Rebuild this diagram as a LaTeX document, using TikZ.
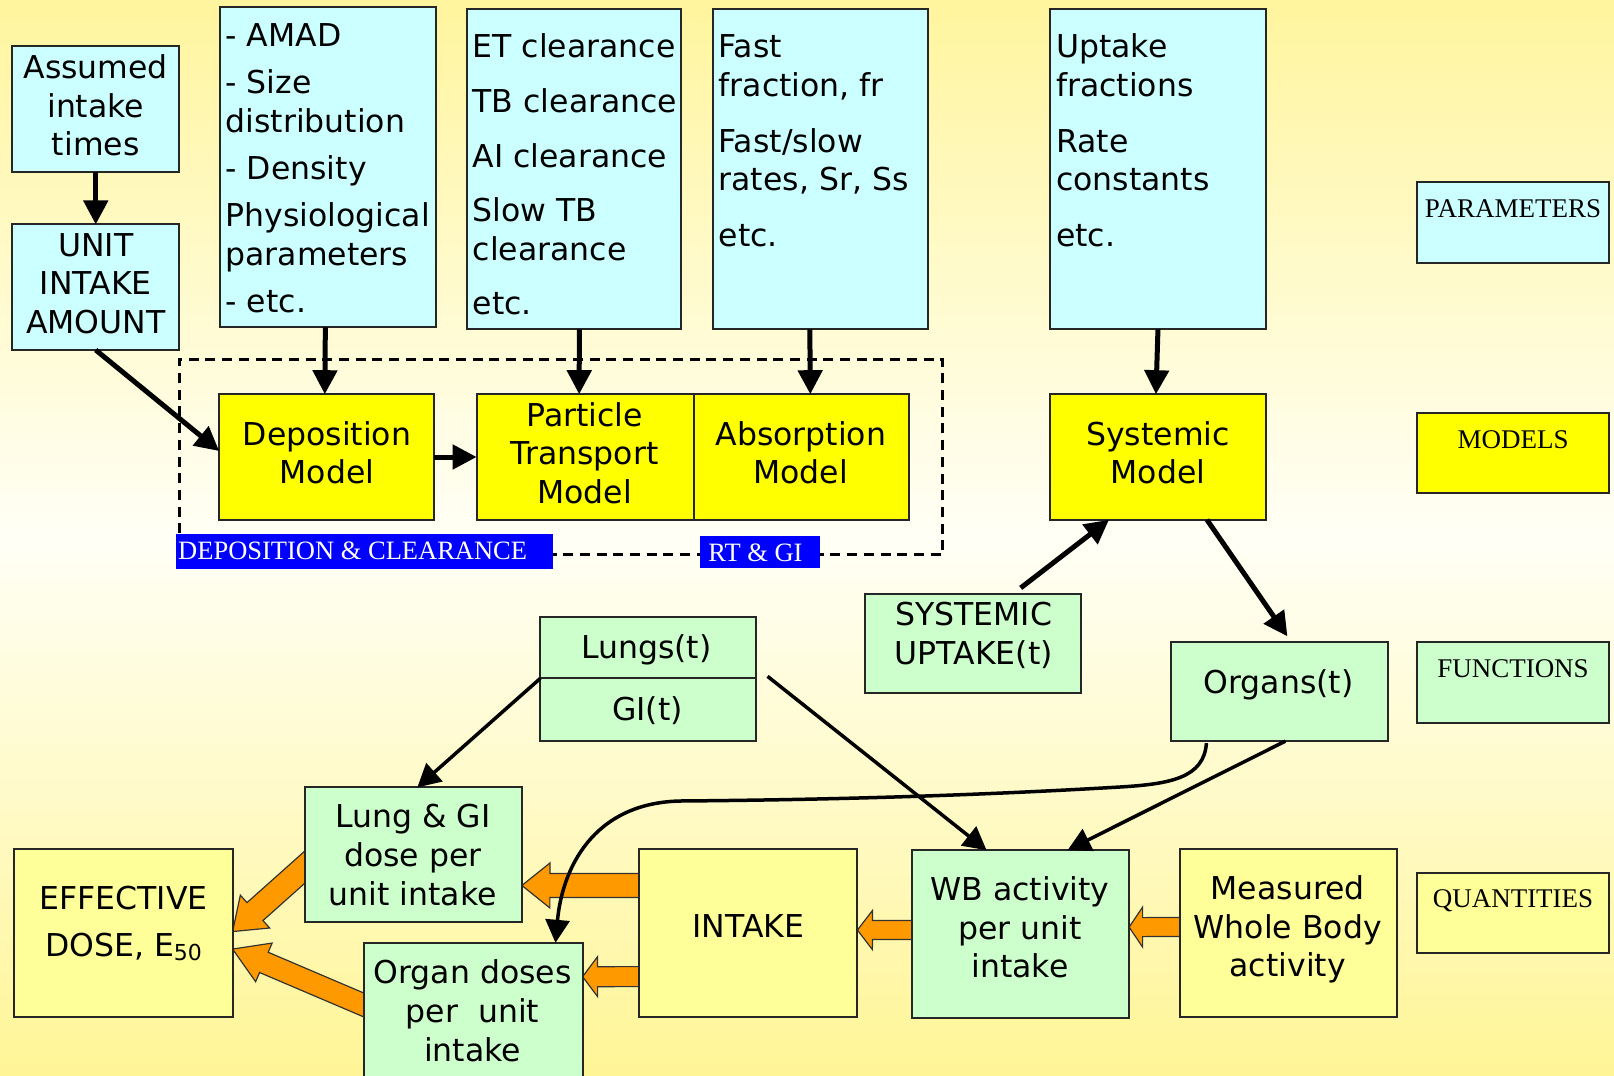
\documentclass[tikz,border=0pt]{standalone}
\usepackage{fontspec}
\setmainfont{DejaVu Sans}
\newfontfamily\seriff{Liberation Serif}
\usetikzlibrary{arrows.meta,calc,backgrounds}
\definecolor{cpar}{HTML}{CCFFFF}
\definecolor{cmod}{HTML}{FFFF00}
\definecolor{cfun}{HTML}{CCFFCC}
\definecolor{cqua}{HTML}{FFFF99}
\definecolor{corange}{HTML}{FF9900}
\definecolor{cblue}{HTML}{0000FF}
\definecolor{bgtop}{HTML}{FFF59E}
\definecolor{bgmid}{HTML}{FFFFF6}
\definecolor{bgbot}{HTML}{FFF596}
\newcommand\mainf{\fontsize{31.5}{38.6}\selectfont}
\newcommand\legf{\seriff\fontsize{27}{30}\selectfont}
\newcommand\mkbox[6]{\node[#6,minimum width={#4-#2},minimum height={#5-#3}] (#1) at ({(#2+#4)/2},{(#3+#5)/2}) {};}
\newcommand\blockarrow[5]{%
 \path #1 coordinate (oa) #2 coordinate (ob);
 \path ($(ob)!#5!(oa)$) coordinate (oc);
 \draw[orr] ($(oa)!#3!90:(ob)$) -- ($(oc)!#3!90:(ob)$) -- ($(oc)!#4!90:(ob)$) -- (ob) -- ($(oc)!#4!-90:(ob)$) -- ($(oc)!#3!-90:(ob)$) -- ($(oa)!#3!-90:(ob)$) -- cycle;}
\begin{document}
\begin{tikzpicture}[x=1pt,y=-1pt,
 box/.style={draw=black!85,line width=2pt,inner sep=0pt,outer sep=0pt},
 cy/.style={box,fill=cpar}, ye/.style={box,fill=cmod}, gr/.style={box,fill=cfun}, ly/.style={box,fill=cqua},
 bl/.style={fill=cblue,inner sep=0pt,outer sep=0pt},
 frame/.style={draw=black,line width=3pt,dash pattern=on 10pt off 6.7pt,inner sep=0pt},
 txt/.style={align=center,inner sep=0pt,font=\mainf},
 ltxt/.style={align=left,inner sep=0pt,font=\mainf,anchor=north west},
 leg/.style={inner sep=0pt,font=\legf,anchor=base},
 wtxt/.style={inner sep=0pt,font=\seriff\fontsize{26.5}{30}\selectfont,text=white},
 arr/.style={line width=5pt,-{Triangle[length=24pt,width=24pt]}},
 arrthin/.style={line width=3.5pt,-{Triangle[length=23pt,width=24pt]}},
 orr/.style={fill=corange,draw=black!80,line width=1.2pt,line join=miter}
]
\useasboundingbox (0,0) rectangle (1614,1076);
\begin{scope}[on background layer]
\shade[top color=bgtop, bottom color=bgbot, middle color=bgmid] (0,0) rectangle (1614,1076);
\end{scope}

% frame
\mkbox{frame}{179.1}{359.2}{942.8}{554.8}{frame}

% parameter boxes
\mkbox{assumed}{12.4}{46.3}{179.1}{171.9}{cy}
\mkbox{unit}{12.4}{224.4}{179.1}{350.0}{cy}
\mkbox{amad}{220.3}{7.2}{436.4}{327.3}{cy}
\mkbox{et}{467.3}{9.3}{681.4}{329.4}{cy}
\mkbox{fast}{713.3}{9.3}{928.4}{329.4}{cy}
\mkbox{uptake}{1049.9}{9.3}{1266.0}{329.4}{cy}
% models
\mkbox{dep}{219.2}{394.2}{434.4}{519.8}{ye}
\mkbox{part}{476.6}{394.2}{693.7}{519.8}{ye}
\mkbox{abs}{693.7}{394.2}{908.9}{519.8}{ye}
\mkbox{sys}{1049.9}{394.2}{1266.0}{519.8}{ye}
% functions
\mkbox{sysup}{864.6}{593.9}{1080.8}{692.7}{gr}
\mkbox{organs}{1171.3}{642.3}{1387.5}{741.1}{gr}
\mkbox{lungs}{540.4}{616.6}{755.5}{678.3}{gr}
\mkbox{gi}{540.4}{678.3}{755.5}{741.1}{gr}
\mkbox{lunggi}{304.7}{787.4}{521.9}{922.3}{gr}
\mkbox{organd}{364.4}{942.8}{582.6}{1085}{gr}
\mkbox{wb}{912.0}{850.2}{1129.1}{1018.0}{gr}
% quantities
\mkbox{eff}{14.4}{849.2}{232.6}{1016.9}{ly}
\mkbox{intake}{639.2}{849.2}{857.4}{1016.9}{ly}
\mkbox{meas}{1179.6}{849.2}{1396.8}{1016.9}{ly}
% legend
\mkbox{lpar}{1417.3}{182.2}{1608.8}{262.5}{cy}
\mkbox{lmod}{1417.3}{412.7}{1608.8}{493.0}{ye}
\mkbox{lfun}{1417.3}{642.3}{1608.8}{722.6}{gr}
\mkbox{lqua}{1417.3}{872.8}{1608.8}{953.1}{ly}
% blue labels
\mkbox{deplab}{176.0}{534.2}{552.7}{569.2}{bl}
\mkbox{rtlab}{699.9}{536.3}{820.4}{568.2}{bl}

% texts
\node[ltxt] (amadT) at (225.4,21.3) {\rule{0pt}{25pt}- AMAD\\[8.5pt]- Size\\distribution\\[8.5pt]- Density\\[8.5pt]Physiological\\parameters\\[8.5pt]- etc.};
\node[ltxt] (etT) at (472.5,32.6) {\rule{0pt}{25pt}ET clearance\\[16pt]TB clearance\\[16pt]AI clearance\\[16pt]Slow TB\\clearance\\[16pt]etc.};
\node[ltxt] (fastT) at (718.5,32.6) {\rule{0pt}{25pt}Fast\\fraction, fr\\[17pt]Fast/slow\\rates, Sr, Ss\\[17pt]etc.};
\node[ltxt] (uptakeT) at (1056,32.6) {\rule{0pt}{25pt}Uptake\\fractions\\[17pt]Rate\\constants\\[17pt]etc.};
\node[txt] (assumedT) at (95.7,105.5) {Assumed\\intake\\times};
\node[txt] (unitT) at (95.7,283.6) {UNIT\\INTAKE\\AMOUNT};
\node[txt] (depT) at (327,452.9) {Deposition\\Model};
\node[txt] (partT) at (584.6,452.9) {Particle\\Transport\\Model};
\node[txt] (absT) at (800.8,452.9) {Absorption\\Model};
\node[txt] (sysT) at (1158,452.9) {Systemic\\Model};
\node[txt] (sysupT) at (973.7,635.5) {SYSTEMIC\\UPTAKE(t)};
\node[txt] (lungsT) at (646.4,649.6) {Lungs(t)};
\node[txt] (giT) at (647.4,710.7) {GI(t)};
\node[txt] (organsT) at (1278.4,684.6) {Organs(t)};
\node[txt] (lunggiT) at (412.7,855) {Lung \& GI\\dose per\\unit intake};
\node[txt] (effT) at (123.5,923.7) {EFFECTIVE\\[8.7pt]DOSE, E\raisebox{-4pt}{\fontsize{22}{22}\selectfont 50}};
\node[txt] (organdT) at (472.5,1010.8) {Organ doses\\per\ \ unit\\intake};
\node[txt] (intakeT) at (748.3,926.4) {INTAKE};
\node[txt] (wbT) at (1020,927.4) {WB activity\\per unit\\intake};
\node[txt] (measT) at (1287.7,929.6) {Measured\\Whole Body\\activity};
\node[leg] (lparT) at (1513,217.6) {PARAMETERS};
\node[leg] (lmodT) at (1513,448) {MODELS};
\node[leg] (lfunT) at (1513,677.6) {FUNCTIONS};
\node[leg] (lquaT) at (1513,907) {QUANTITIES};
\node[wtxt,anchor=base west] (deplabT) at (178,559) {DEPOSITION \& CLEARANCE};
\node[wtxt,anchor=base] (rtlabT) at (755.5,561.4) {RT \& GI};

% orange block arrows (behind boxes)
\begin{scope}[on background layer]
\blockarrow{($(intake.west)+(20,-47.5)$)}{($(lunggi.east)+(0,30.6)$)}{12pt}{22.5pt}{28pt}
\blockarrow{($(intake.west)+(20,43.5)$)}{($(organd.east)+(0,-37.2)$)}{10pt}{20pt}{15pt}
\blockarrow{($(wb.west)+(20,-4)$)}{($(intake.east)+(0,-3)$)}{9.5pt}{19.5pt}{15pt}
\blockarrow{($(meas.west)+(20,-6)$)}{($(wb.east)+(0,-7)$)}{9.5pt}{20pt}{13.5pt}
\blockarrow{($(lunggi.west)+(15,-1)$)}{($(eff.east)+(0,-1.5)$)}{12pt}{22pt}{30pt}
\blockarrow{($(organd.west)+(18,-1)$)}{($(eff.east)+(0,16)$)}{11pt}{21pt}{34pt}
\end{scope}

% black arrows
\draw[arr] (assumed.south) -- (unit.north);
\draw[arr] (unit.south) -- ($(dep.west)+(0,-6)$);
\draw[arr] ($(amad.south)+(-3,0)$) -- ($(dep.north)+(-2,0)$);
\draw[arr] ($(et.south)+(5,0)$) -- ($(part.north)+(-6,0)$);
\draw[arr] ($(fast.south)+(-11,0)$) -- ($(abs.north)+(9,0)$);
\draw[arr] (uptake.south) -- ($(sys.north)+(-2,0)$);
\draw[arr] (dep.east) -- (part.west);
\draw[arr] ($(sysup.north)+(48,-6)$) -- ($(sys.south)+(-49,0)$);
\draw[arr] ($(sys.south)+(49,0)$) -- ($(organs.north)+(8,-6)$);
\draw[arrthin] (lungs.south west) -- ($(lunggi.north)+(4,0)$);
\draw[arrthin] ($(lungs.south east)+(12,-2)$) -- ($(wb.north)+(-34,0)$);
\draw[arrthin] ($(organs.south)+(6,0)$) -- ($(wb.north)+(47,0)$);
\draw[arrthin] ($(organs.south)+(-73,2)$) .. controls (1204,778) and (1170,784) .. (1120,787) .. controls (950,797) and (800,800) .. (680,801) .. controls (592,803) and (562,870) .. ($(organd.north)+(82,0)$);
\end{tikzpicture}
\end{document}
